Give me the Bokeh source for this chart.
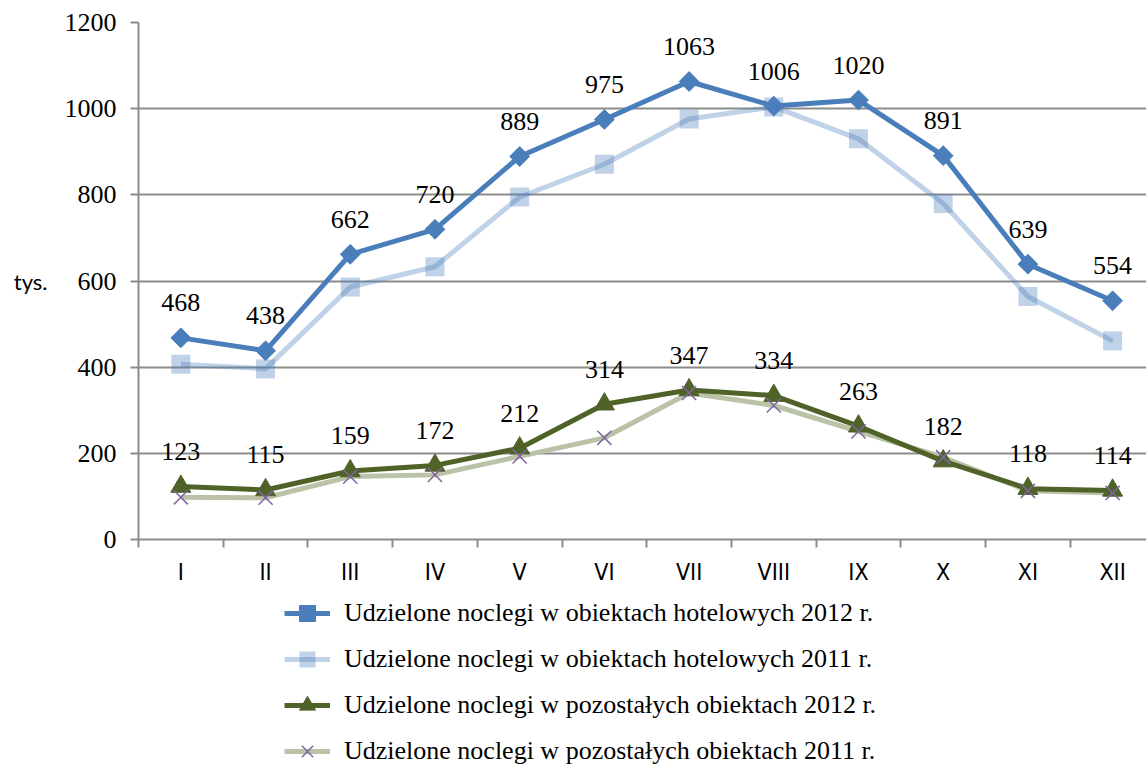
from bokeh.plotting import figure
from bokeh.layouts import column
from bokeh.core.properties import value
from bokeh.models import ColumnDataSource, LabelSet, Legend, LegendItem, FixedTicker, Range1d
from bokeh.embed import file_html
from bokeh.resources import INLINE
import numpy as np

months = ["I", "II", "III", "IV", "V", "VI", "VII", "VIII", "IX", "X", "XI", "XII"]
hotel_2012 = [468, 438, 662, 720, 889, 975, 1063, 1006, 1020, 891, 639, 554]
hotel_2011 = [407, 396, 586, 633, 795, 871, 976, 1004, 930, 780, 564, 461]
other_2012 = [123, 115, 159, 172, 212, 314, 347, 334, 263, 182, 118, 114]
other_2011 = [98, 97, 146, 150, 193, 236, 340, 311, 251, 191, 113, 108]
series_names = [
    "Udzielone noclegi w obiektach hotelowych 2012 r.",
    "Udzielone noclegi w obiektach hotelowych 2011 r.",
    "Udzielone noclegi w pozostałych obiektach 2012 r.",
    "Udzielone noclegi w pozostałych obiektach 2011 r.",
]
y_ticks = [0, 200, 400, 600, 800, 1000, 1200]
y_unit = "tys."

xs = list(range(len(months)))
src = ColumnDataSource(dict(x=xs, h12=hotel_2012, h11=hotel_2011, o12=other_2012, o11=other_2011,
                            h12s=[str(v) for v in hotel_2012], o12s=[str(v) for v in other_2012]))

GRID = "#8C8C8C"
SERIF = "Liberation Serif"
BLUE = "#4A7EBB"
OLIVE = "#4F6228"
GREYGREEN = "#BAC3A8"
PURPLE = "#8064A2"

p = figure(width=1146, height=590, x_range=Range1d(-0.5, 11.4), y_range=Range1d(0, 1200),
           output_backend="svg", toolbar_location=None,
           min_border_left=138, min_border_right=0, min_border_top=22, min_border_bottom=51)
p.outline_line_color = None
p.background_fill_color = "white"
p.border_fill_color = "white"

# grid
p.xgrid.visible = False
p.ygrid.ticker = FixedTicker(ticks=y_ticks)
p.ygrid.grid_line_color = GRID
p.ygrid.grid_line_width = 2

# y axis
p.yaxis.ticker = FixedTicker(ticks=y_ticks)
p.yaxis.axis_line_color = GRID
p.yaxis.axis_line_width = 2
p.yaxis.major_tick_line_color = GRID
p.yaxis.major_tick_line_width = 2
p.yaxis.major_tick_out = 8
p.yaxis.major_tick_in = 0
p.yaxis.minor_tick_line_color = None
p.yaxis.major_label_text_font = SERIF
p.yaxis.major_label_text_font_size = "26px"
p.yaxis.major_label_text_color = "black"
p.yaxis.major_label_standoff = 14
p.yaxis.axis_label = y_unit
p.yaxis.axis_label_text_font = "Lato"
p.yaxis.axis_label_text_font_size = "22px"
p.yaxis.axis_label_text_font_style = "normal"
p.yaxis.axis_label_text_color = "black"
p.yaxis.axis_label_standoff = 14
try:
    p.yaxis.axis_label_orientation = "horizontal"
except Exception:
    pass

# x axis
bounds = [i - 0.5 for i in range(len(months) + 1)]
p.xaxis.ticker = FixedTicker(ticks=xs, minor_ticks=bounds)
p.xaxis.major_label_overrides = {i: m for i, m in enumerate(months)}
p.xaxis.axis_line_color = GRID
p.xaxis.axis_line_width = 2
p.xaxis.major_tick_line_color = None
p.xaxis.major_tick_out = 0
p.xaxis.major_tick_in = 0
p.xaxis.minor_tick_line_color = GRID
p.xaxis.minor_tick_line_width = 2
p.xaxis.minor_tick_out = 8
p.xaxis.minor_tick_in = 0
p.xaxis.major_label_text_font = "DejaVu Sans Condensed"
p.xaxis.major_label_text_font_size = "23px"
p.xaxis.major_label_text_color = "black"
p.xaxis.major_label_standoff = 11


def draw_series(fig):
    l11 = fig.line("x", "h11", source=src, line_color=BLUE, line_alpha=0.35, line_width=5)
    l12 = fig.line("x", "h12", source=src, line_color=BLUE, line_width=5)
    lo11 = fig.line("x", "o11", source=src, line_color=GREYGREEN, line_width=5)
    lo12 = fig.line("x", "o12", source=src, line_color=OLIVE, line_width=5)
    m11 = fig.scatter("x", "h11", source=src, marker="square", size=19, fill_color=BLUE, fill_alpha=0.35, line_color=None)
    m12 = fig.scatter("x", "h12", source=src, marker="square", angle=np.pi / 4, size=14, fill_color=BLUE, line_color=BLUE)
    mo12 = fig.scatter("x", "o12", source=src, marker="triangle", size=20, fill_color=OLIVE, line_color=OLIVE)
    mo11 = fig.scatter("x", "o11", source=src, marker="x", size=20, line_color=PURPLE, line_width=1.5)
    return [(l12, m12), (l11, m11), (lo12, mo12), (lo11, mo11)]


draw_series(p)

for col, lab in (("h12", "h12s"), ("o12", "o12s")):
    ls = LabelSet(x="x", y=col, text=lab, source=src, y_offset=35, text_align="center",
                  text_baseline="middle", text_font=value(SERIF), text_font_size="26px", text_color="black")
    p.add_layout(ls)

# legend strip below the chart (series renderers kept hidden, used only as legend keys)
pl = figure(width=1146, height=182, x_range=Range1d(-0.5, 11.4), y_range=Range1d(0, 1200),
            x_axis_type=None, y_axis_type=None,
            output_backend="svg", toolbar_location=None,
            min_border_left=0, min_border_right=0, min_border_top=0, min_border_bottom=0)
pl.grid.visible = False
pl.outline_line_color = None
pl.background_fill_color = "white"
pl.border_fill_color = "white"
pairs = draw_series(pl)
for pair in pairs:
    for r in pair:
        r.visible = False

items = [LegendItem(label=name, renderers=list(pair)) for name, pair in zip(series_names, pairs)]
legend = Legend(items=items, orientation="vertical", location=(146, 1),
                glyph_width=46, glyph_height=40, label_height=30, label_standoff=14,
                label_text_font=SERIF, label_text_font_size="26px", label_text_color="black",
                spacing=6, padding=0, margin=0, border_line_color=None, background_fill_alpha=0)
pl.add_layout(legend, "center")

layout = column(p, pl, spacing=0)
open("out.html", "w").write(file_html(layout, INLINE))
